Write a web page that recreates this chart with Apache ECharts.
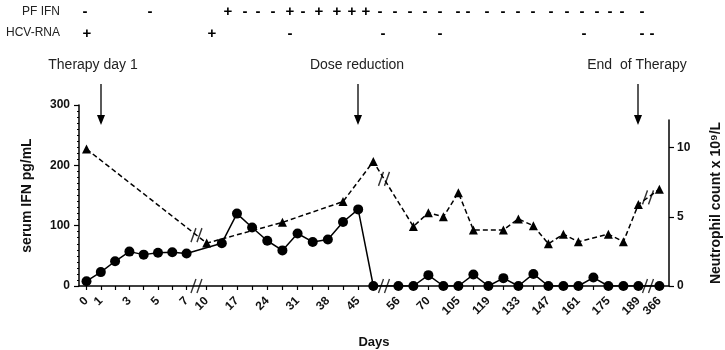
<!DOCTYPE html>
<html>
<head>
<meta charset="utf-8">
<script src="https://cdn.jsdelivr.net/npm/echarts@6/dist/echarts.min.js"></script>
<style>
  html, body { margin: 0; padding: 0; background: #fff; }
  #main { width: 725px; height: 350px; }
</style>
</head>
<body>
<div id="main"></div>
<script>
var FONT = '"Liberation Sans", Arial, sans-serif';

// tick labels of the broken day axis, one entry per sample column ('' = unlabelled tick)
var seg1Labels = ['0', '1', '', '3', '', '5', '', '7'];
var seg2Labels = ['10', '', '17', '', '24', '', '31', '', '38', '', '45', ''];
var seg3Labels = ['56', '', '70', '', '105', '', '119', '', '133', '', '147', '', '161', '', '175', '', '189'];
var seg4Labels = ['366'];

// serum IFN pg/mL (circles), null = not measured
var ifnSeg1 = [8, 23, 41, 57, 52, 55, 56, 54];
var ifnSeg2 = [null, 71, 120, 97, 75, 59, 87, 73, 77, 106, 127, 0];
var ifnSeg3 = [0, 0, 18, 0, 0, 19, 0, 13, 0, 20, 0, 0, 0, 14, 0, 0, 0];
var ifnSeg4 = [0];

// neutrophil count x 10^9/L (triangles)
var neutSeg1 = [9.9, null, null, null, null, null, null, null];
var neutSeg2 = [3.1, null, null, null, null, 4.6, null, null, null, 6.1, null, 9.0];
var neutSeg3 = [null, 4.3, 5.3, 5.0, 6.75, 4.05, null, 4.05, 4.85, 4.35, 3.05, 3.75, 3.2, null, 3.75, 3.2, 5.9];
var neutSeg4 = [7.0];

// PF IFN / HCV-RNA result rows above the plot
var pfIfnSigns = ['-', '-', '+', '-', '-', '-', '+', '-', '+', '+', '+', '+', '-', '-', '-', '-', '-', '-', '-', '-', '-', '-', '-', '-', '-', '-', '-', '-', '-', '-'];
var hcvSigns = ['+', '+', '-', '-', '-', '-', '-', '-'];

// layout of the axis segments (axis units, 1 unit = one sample slot)
var segLayout = [
  { start: 0.5, step: 0.953 },
  { start: 8.51, step: 1.01 },
  { start: 21.29, step: 1 },
  { start: 38.69, step: 1 }
];
var breakU = [7.83, 20.33, 37.93];
var X_MAX = 39.33;
var pfIfnX = [85, 150, 228, 245, 258, 273, 290, 303, 319, 337, 352, 366, 380, 395, 410, 425, 440, 458, 468, 487, 503, 518, 533, 551, 567, 582, 597, 610, 622, 642];
var hcvX = [87, 212, 290, 383, 440, 584, 642, 652];

var segLabels = [seg1Labels, seg2Labels, seg3Labels, seg4Labels];
var ifnSegs = [ifnSeg1, ifnSeg2, ifnSeg3, ifnSeg4];
var neutSegs = [neutSeg1, neutSeg2, neutSeg3, neutSeg4];

function colU(s, i) {
  return +(segLayout[s].start + segLayout[s].step * i).toFixed(3);
}

var tickU = [], labelU = [], labelMap = {};
var ifnData = [], neutData = [];
segLabels.forEach(function (labs, s) {
  labs.forEach(function (lab, i) {
    var u = colU(s, i);
    tickU.push(u);
    if (lab !== '') { labelU.push(u); labelMap[u.toFixed(3)] = lab; }
    if (ifnSegs[s][i] != null) ifnData.push([u, ifnSegs[s][i]]);
    if (neutSegs[s][i] != null) neutData.push([u, neutSegs[s][i]]);
  });
});

// "//" marks where the dashed line and the axis cross a break
function lineYAt(data, u) {
  for (var k = 0; k < data.length - 1; k++) {
    var p = data[k], q = data[k + 1];
    if (p[0] < u && q[0] > u) return p[1] + (q[1] - p[1]) * (u - p[0]) / (q[0] - p[0]);
  }
  return null;
}
var axisBreaks = breakU.map(function (u) { return [u, 0]; });
var lineBreaks = breakU.map(function (u) { return [u, lineYAt(neutData, u)]; });
var BREAK_PATH = 'path://M0,14L5,0M6,14L11,0';

var chart = echarts.init(document.getElementById('main'), null, { renderer: 'canvas' });

var option = {
  backgroundColor: '#fff',
  animation: false,
  textStyle: { fontFamily: FONT },
  grid: [
    { left: 79, right: 56, top: 105, bottom: 64, containLabel: false, outerBoundsMode: 'none' },
    { left: 79, right: 56, top: 120, bottom: 64, containLabel: false, outerBoundsMode: 'none' }
  ],
  xAxis: [{
    type: 'value', gridIndex: 0, min: 0, max: X_MAX,
    name: 'Days', nameLocation: 'middle', nameGap: 50,
    nameTextStyle: { color: '#111', fontSize: 13, fontWeight: 'bold', fontFamily: FONT },
    axisLine: { onZero: false, lineStyle: { color: '#000', width: 1.5 } },
    axisTick: { customValues: tickU, length: 4, lineStyle: { color: '#000', width: 1.2 } },
    axisLabel: {
      customValues: labelU, rotate: 45, margin: 13,
      color: '#111', fontSize: 12, fontWeight: 'bold', fontFamily: FONT,
      formatter: function (v) { return labelMap[(+v).toFixed(3)] || ''; }
    },
    splitLine: { show: false }
  }, {
    type: 'value', gridIndex: 1, min: 0, max: X_MAX, show: false
  }],
  yAxis: [{
    type: 'value', gridIndex: 0, min: 0, max: 300, interval: 100,
    name: 'serum IFN pg/mL', nameLocation: 'middle', nameGap: 45,
    nameTextStyle: { color: '#111', fontSize: 14, fontWeight: 'bold', fontFamily: FONT },
    axisLine: { show: true, onZero: false, lineStyle: { color: '#000', width: 1.5 } },
    axisTick: { length: 5, lineStyle: { color: '#000', width: 1.2 } },
    minorTick: { show: true, splitNumber: 10, length: 2, lineStyle: { color: '#000', width: 1 } },
    axisLabel: { color: '#111', fontSize: 12, fontWeight: 'bold', fontFamily: FONT, margin: 9 },
    splitLine: { show: false }
  }, {
    type: 'value', gridIndex: 1, position: 'right', min: 0, max: 12,
    name: 'Neutrophil count x 10⁹/L', nameLocation: 'middle', nameGap: 40,
    nameRotate: 90,
    nameTextStyle: { color: '#111', fontSize: 14, fontWeight: 'bold', fontFamily: FONT },
    axisLine: { show: true, onZero: false, lineStyle: { color: '#000', width: 1.5 } },
    axisTick: { customValues: [0, 5, 10], length: 5, lineStyle: { color: '#000', width: 1.2 } },
    axisLabel: { customValues: [0, 5, 10], color: '#111', fontSize: 12, fontWeight: 'bold', fontFamily: FONT, margin: 8 },
    splitLine: { show: false }
  }],
  series: [{
    name: 'neutrophils', type: 'line', xAxisIndex: 1, yAxisIndex: 1,
    data: neutData, symbol: 'triangle', symbolSize: 9,
    itemStyle: { color: '#000' },
    lineStyle: { color: '#000', width: 1.5, type: [5, 3] },
    z: 3
  }, {
    name: 'serum IFN', type: 'line', xAxisIndex: 0, yAxisIndex: 0,
    data: ifnData, symbol: 'circle', symbolSize: 10,
    itemStyle: { color: '#000' },
    lineStyle: { color: '#000', width: 1.5 },
    z: 4
  }, {
    type: 'scatter', xAxisIndex: 0, yAxisIndex: 0, data: axisBreaks,
    symbol: BREAK_PATH, symbolSize: [11, 14], silent: true,
    itemStyle: { color: 'rgba(0,0,0,0)', borderColor: '#000', borderWidth: 1.6 }, z: 6
  }, {
    type: 'scatter', xAxisIndex: 1, yAxisIndex: 1, data: lineBreaks,
    symbol: BREAK_PATH, symbolSize: [11, 14], silent: true,
    itemStyle: { color: 'rgba(0,0,0,0)', borderColor: '#000', borderWidth: 1.6 }, z: 6
  }]
};
chart.setOption(option);

// arrows + captions, placed at their day columns through the x scale
var arrowCols = [[0, 1], [1, 10], [2, 16]];
var arrowText = ['Therapy day 1', 'Dose reduction', 'End  of Therapy'];
var arrowTextX = [93, 357, 637];

var g = [];
arrowCols.forEach(function (c, k) {
  var x = Math.round(chart.convertToPixel({ xAxisIndex: 0 }, colU(c[0], c[1])));
  g.push({ type: 'line', shape: { x1: x, y1: 84, x2: x, y2: 118 }, style: { stroke: '#000', lineWidth: 1.3 } });
  g.push({ type: 'polygon', shape: { points: [[x - 4, 115], [x + 4, 115], [x, 125]] }, style: { fill: '#000' } });
  g.push({
    type: 'text', x: arrowTextX[k], y: 65,
    style: { text: arrowText[k], fill: '#222', font: '14px ' + FONT, textAlign: 'center', textVerticalAlign: 'middle' }
  });
});

g.push({ type: 'text', x: 60, y: 12, style: { text: 'PF IFN', fill: '#222', font: '12px ' + FONT, textAlign: 'right', textVerticalAlign: 'middle' } });
g.push({ type: 'text', x: 60, y: 33, style: { text: 'HCV-RNA', fill: '#222', font: '12px ' + FONT, textAlign: 'right', textVerticalAlign: 'middle' } });
pfIfnSigns.forEach(function (s, k) {
  g.push({ type: 'text', x: pfIfnX[k], y: 12, style: { text: s, fill: '#000', font: 'bold 15px ' + FONT, textAlign: 'center', textVerticalAlign: 'middle' } });
});
hcvSigns.forEach(function (s, k) {
  g.push({ type: 'text', x: hcvX[k], y: 34, style: { text: s, fill: '#000', font: 'bold 15px ' + FONT, textAlign: 'center', textVerticalAlign: 'middle' } });
});

chart.setOption({ graphic: g });
</script>
</body>
</html>
